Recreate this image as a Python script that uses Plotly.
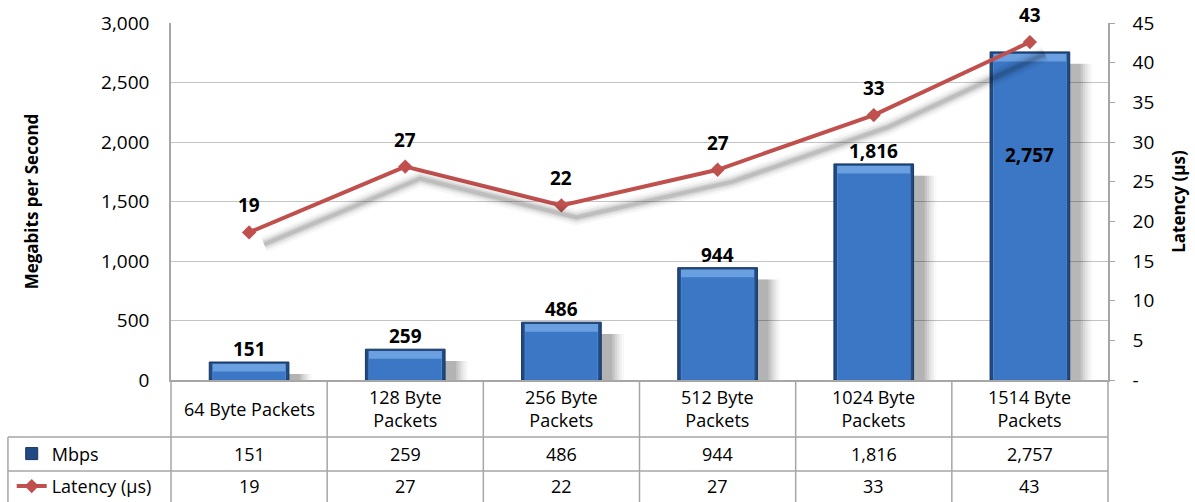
import plotly.graph_objects as go

# data
categories = ["64 Byte Packets", "128 Byte Packets", "256 Byte Packets",
              "512 Byte Packets", "1024 Byte Packets", "1514 Byte Packets"]
header_labels = ["64 Byte Packets", "128 Byte<br>Packets", "256 Byte<br>Packets",
                 "512 Byte<br>Packets", "1024 Byte<br>Packets", "1514 Byte<br>Packets"]
mbps = [151, 259, 486, 944, 1816, 2757]
latency = [18.6, 26.9, 22.0, 26.5, 33.4, 42.6]
latency_labels = ["19", "27", "22", "27", "33", "43"]
lat_ticks = [0, 5, 10, 15, 20, 25, 30, 35, 40, 45]
lat_ticktext = ["-", "5", "10", "15", "20", "25", "30", "35", "40", "45"]

FONT = "Open Sans"
RED = "#c0504d"
GRID = "#c4c4c4"
BORDER = "#a6a6a6"

fig = go.Figure()

# bar shadows (stacked translucent layers to fake a blur), shifted right/down
for w, op in [(0.66, 0.025), (0.63, 0.035), (0.60, 0.045), (0.57, 0.06), (0.54, 0.07), (0.51, 0.08)]:
    fig.add_trace(go.Bar(
        x=categories, y=mbps, base=-100, width=w, offset=-0.255 + 0.07 - (w - 0.51) / 2,
        marker=dict(color="black", line_width=0), opacity=op,
        showlegend=False, hoverinfo="skip"
    ))

# main bars: dark outline, light top bevel, body
fig.add_trace(go.Bar(
    x=categories, y=mbps, width=0.51, name="Mbps",
    marker=dict(color="#1f4a84", line=dict(color="#17365e", width=1)),
    legend="legend"
))
fig.add_trace(go.Bar(
    x=categories, y=mbps, base=-15, width=0.47,
    marker=dict(color="#6a9fe0", line_width=0),
    showlegend=False, hoverinfo="skip"
))
fig.add_trace(go.Bar(
    x=categories, y=mbps, base=-80, width=0.465,
    marker=dict(color="#3b77c5", line_width=0),
    showlegend=False, hoverinfo="skip"
))

# line shadow on shifted helper axes
for w, col in [(16, "rgba(0,0,0,0.035)"), (11, "rgba(0,0,0,0.06)"),
               (7, "rgba(0,0,0,0.08)"), (4, "rgba(0,0,0,0.10)")]:
    fig.add_trace(go.Scatter(
        x=categories, y=latency, xaxis="x2", yaxis="y2", mode="lines",
        line=dict(color=col, width=w), showlegend=False, hoverinfo="skip"
    ))

# latency line
fig.add_trace(go.Scatter(
    x=categories, y=latency, yaxis="y3", mode="lines+markers", name="Latency (µs)",
    line=dict(color=RED, width=4),
    marker=dict(symbol="diamond", size=11, color=RED),
    legend="legend2"
))

annotations = []
# bar value labels
for c, v in zip(categories, mbps):
    if v > 2500:
        annotations.append(dict(x=c, y=v, xref="x", yref="y", text="<b>{:,}</b>".format(v),
                                showarrow=False, yanchor="middle", yshift=-103,
                                font=dict(size=19, family=FONT, color="black")))
    else:
        annotations.append(dict(x=c, y=v, xref="x", yref="y", text="<b>{:,}</b>".format(v),
                                showarrow=False, yanchor="bottom", yshift=-2,
                                font=dict(size=19, family=FONT, color="black")))
# latency value labels
for c, v, t in zip(categories, latency, latency_labels):
    annotations.append(dict(x=c, y=v, xref="x", yref="y3", text="<b>" + t + "</b>",
                            showarrow=False, yanchor="middle", yshift=27,
                            font=dict(size=19, family=FONT, color="black")))

# data table text
for c, h, m, t in zip(categories, header_labels, mbps, latency_labels):
    annotations.append(dict(x=c, y=-0.08, xref="x", yref="paper", text=h, showarrow=False,
                            yanchor="middle", font=dict(size=18, family=FONT, color="black")))
    annotations.append(dict(x=c, y=-0.207, xref="x", yref="paper", text="{:,}".format(m),
                            showarrow=False, yanchor="middle",
                            font=dict(size=18, family=FONT, color="black")))
    annotations.append(dict(x=c, y=-0.298, xref="x", yref="paper", text=t, showarrow=False,
                            yanchor="middle", font=dict(size=18, family=FONT, color="black")))

# table grid
shapes = []
for i in range(7):
    shapes.append(dict(type="line", xref="x domain", yref="paper", x0=i / 6, x1=i / 6,
                       y0=0, y1=-0.4, line=dict(color=BORDER, width=1.5)))
shapes.append(dict(type="line", xref="paper", yref="paper", x0=-0.174, x1=-0.174,
                   y0=-0.16, y1=-0.4, line=dict(color=BORDER, width=1.5)))
for yy in [-0.16, -0.255]:
    shapes.append(dict(type="line", xref="paper", yref="paper", x0=-0.174, x1=1,
                       y0=yy, y1=yy, line=dict(color=BORDER, width=1.5)))

fig.update_layout(
    width=1195, height=502,
    margin=dict(l=171, r=87, t=23, b=122, autoexpand=False),
    paper_bgcolor="white", plot_bgcolor="white",
    barmode="overlay",
    font=dict(family=FONT, size=19, color="black"),
    xaxis=dict(range=[-0.5, 5.5], showticklabels=False, showgrid=False,
               showline=True, linecolor=BORDER, linewidth=1.5, mirror=False),
    xaxis2=dict(overlaying="x", range=[-0.596, 5.404], visible=False),
    yaxis=dict(range=[0, 3000], dtick=500, tickformat=",", gridcolor=GRID, gridwidth=1,
               showline=True, linecolor=BORDER, linewidth=1.5, ticks="",
               ticklabelstandoff=16, zeroline=False,
               title=dict(text="<b>Megabits per Second</b>", standoff=58,
                          font=dict(size=17, family=FONT))),
    yaxis2=dict(overlaying="y", range=[1.5, 46.5], visible=False),
    yaxis3=dict(overlaying="y", side="right", range=[0, 45], tickvals=lat_ticks,
                ticktext=lat_ticktext, showgrid=False, zeroline=False,
                showline=True, linecolor=BORDER, linewidth=1.5,
                ticks="outside", ticklen=5, tickcolor=BORDER, ticklabelstandoff=14,
                title=dict(text="<b>Latency (µs)</b>", standoff=20,
                           font=dict(size=17, family=FONT))),
    legend=dict(x=-0.17, xanchor="left", y=-0.207, yanchor="middle",
                bgcolor="rgba(0,0,0,0)", font=dict(size=18, family=FONT)),
    legend2=dict(x=-0.17, xanchor="left", y=-0.298, yanchor="middle",
                 bgcolor="rgba(0,0,0,0)", font=dict(size=18, family=FONT)),
    annotations=annotations,
    shapes=shapes,
    showlegend=True,
)

fig.write_html("out.html", config={"displayModeBar": False},
               post_script="document.body.style.margin='0px';")
